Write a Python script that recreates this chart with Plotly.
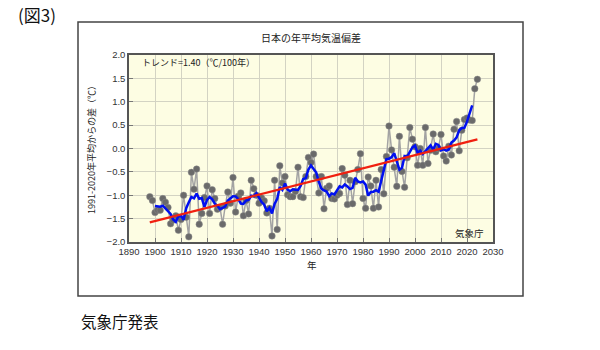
import numpy as np
import pandas as pd
import plotly.graph_objects as go

years = list(range(1898, 2025))
anomaly = [
    -1.03, -1.11, -1.37, -1.32, -1.32, -1.07, -1.15, -1.26, -1.61, -1.53,   # 1898-1907
    -1.44, -1.75, -1.52, -1.00, -1.47, -1.89, -0.51, -0.87, -0.44, -1.62,   # 1908-1917
    -1.39, -1.05, -0.80, -1.39, -0.88, -1.07, -1.30, -1.26, -1.62, -1.23,   # 1918-1927
    -0.93, -1.17, -0.62, -1.36, -1.02, -0.95, -1.44, -1.11, -1.40, -0.68,   # 1928-1937
    -0.86, -1.00, -1.17, -1.06, -1.12, -1.38, -1.28, -1.87, -0.68, -1.73,   # 1938-1947
    -0.37, -0.74, -0.60, -0.99, -1.03, -1.03, -0.92, -0.40, -1.03, -1.05,   # 1948-1957
    -0.60, -0.19, -0.30, -0.12, -0.60, -0.95, -0.60, -1.29, -0.85, -0.80,   # 1958-1967
    -1.07, -1.08, -1.00, -0.96, -0.43, -0.57, -1.20, -0.68, -1.18, -0.71,   # 1968-1977
    -0.45, -0.11, -1.07, -1.28, -0.61, -0.80, -1.28, -0.68, -1.25, -0.45,   # 1978-1987
    -0.97, -0.17, 0.48, -0.03, -0.40, -0.81, 0.26, -0.49, -0.83, -0.20,     # 1988-1997
    0.45, 0.20, 0.04, -0.36, 0.00, -0.36, 0.45, -0.32, -0.04, 0.31,         # 1998-2007
    -0.07, 0.00, 0.30, -0.16, -0.27, 0.05, -0.14, 0.41, 0.58, -0.05,        # 2008-2017
    0.39, 0.62, 0.65, 0.61, 0.60, 1.28, 1.48,                               # 2018-2024
]

title_text = "日本の年平均気温偏差"
trend_label = "トレンド=1.40（℃/100年）"
y_title = "1991-2020年平均からの差（℃）"
x_title = "年"
source_in = "気象庁"
fig_label = "(図3)"
footer = "気象庁発表"

s = pd.Series(anomaly, index=years)
running5 = s.rolling(5, center=True).mean().dropna()
coef = np.polyfit(years, anomaly, 1)
trend_x = [years[0], years[-1]]
trend_y = list(np.polyval(coef, trend_x))

JP = "Noto Sans CJK JP"
NUM = "Liberation Sans"

fig = go.Figure()
fig.add_trace(go.Scatter(
    x=years, y=anomaly, mode="lines+markers",
    line=dict(color="#a3a3a3", width=1.5),
    marker=dict(color="#6a6a6a", size=6.5, line=dict(color="#8a8a8a", width=0.5)),
    hoverinfo="skip", showlegend=False,
))
fig.add_trace(go.Scatter(
    x=list(running5.index), y=list(running5.values), mode="lines",
    line=dict(color="#0010f0", width=2.5), showlegend=False,
))
fig.add_trace(go.Scatter(
    x=trend_x, y=trend_y, mode="lines",
    line=dict(color="#f02010", width=2.2), showlegend=False,
))

axis_common = dict(
    showline=True, linecolor="#555555", linewidth=1.5, mirror=True,
    showgrid=True, gridcolor="#d3d3c3", gridwidth=1,
    ticks="inside", ticklen=4, tickcolor="#777777",
    tickfont=dict(family=NUM, size=9.5, color="#333333"),
    zeroline=False,
)

fig.update_layout(
    width=600, height=350,
    margin=dict(l=129, r=107, t=55, b=108),
    paper_bgcolor="white", plot_bgcolor="#fdfde3",
    xaxis=dict(range=[1890, 2030], dtick=10, tick0=1890, **axis_common),
    yaxis=dict(range=[-2, 2], dtick=0.5, tick0=-2, tickformat=".1f", **axis_common),
    showlegend=False,
)

def px_x(px):
    return (px - 129) / 364.0

def px_y(py):
    return (242 - py) / 187.0

fig.add_shape(type="rect", xref="paper", yref="paper",
              x0=px_x(78), x1=px_x(523), y0=px_y(296), y1=px_y(22),
              line=dict(color="#444444", width=1.5), layer="below")

ann = []
ann.append(dict(text=title_text, x=px_x(311), y=px_y(37), xanchor="center", yanchor="middle",
                font=dict(family=JP, size=10, color="#222222")))
ann.append(dict(text=trend_label, x=px_x(140), y=px_y(63), xanchor="left", yanchor="middle",
                font=dict(family=JP, size=9, color="#222222")))
ann.append(dict(text=source_in, x=px_x(486), y=px_y(233), xanchor="right", yanchor="middle",
                font=dict(family=JP, size=9.5, color="#222222")))
ann.append(dict(text=x_title, x=px_x(312), y=px_y(265), xanchor="center", yanchor="middle",
                font=dict(family=JP, size=9.5, color="#222222")))
ann.append(dict(text=y_title, x=px_x(91), y=px_y(148), xanchor="center", yanchor="middle",
                textangle=-90, font=dict(family=JP, size=9, color="#222222")))
ann.append(dict(text=fig_label, x=px_x(16), y=px_y(14), xanchor="left", yanchor="middle",
                font=dict(family=JP, size=17, color="#111111")))
ann.append(dict(text=footer, x=px_x(79), y=px_y(321), xanchor="left", yanchor="middle",
                font=dict(family=JP, size=15.5, color="#111111")))
for a in ann:
    a.update(xref="paper", yref="paper", showarrow=False)
    fig.add_annotation(**a)

fig.write_html("out.html")
